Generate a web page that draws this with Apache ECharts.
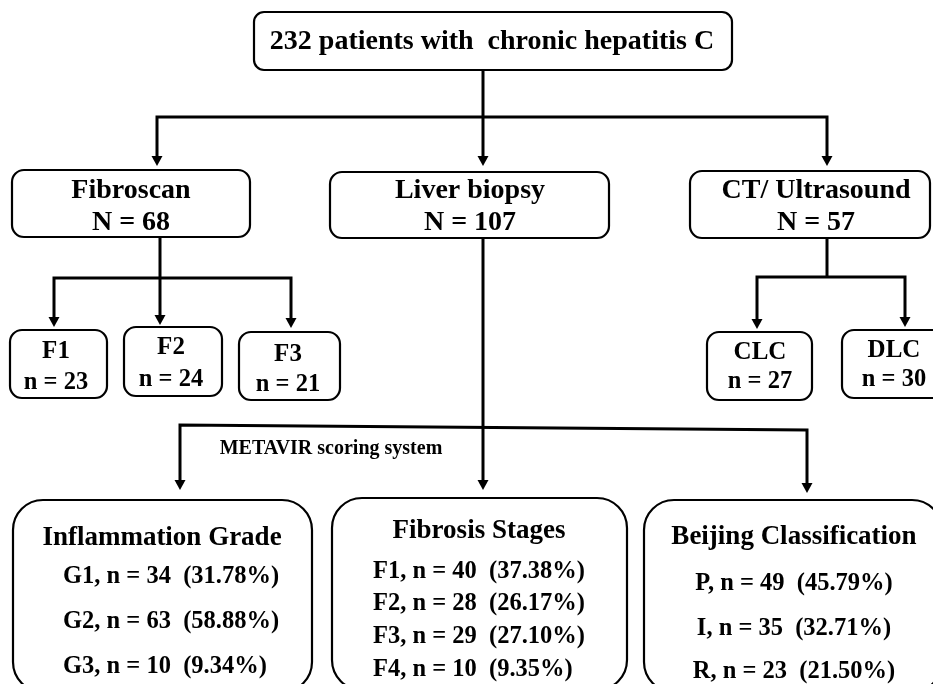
<!DOCTYPE html>
<html>
<head>
<meta charset="utf-8">
<script src="https://cdn.jsdelivr.net/npm/echarts@6/dist/echarts.min.js"></script>
<style>
  html, body { margin: 0; padding: 0; background: #fff; }
  #main { width: 933px; height: 684px; }
</style>
</head>
<body>
<div id="main"></div>
<script>
// --- chart content ---
const rootText = '232 patients with  chronic hepatitis C';
const methodNames = ['Fibroscan', 'Liver biopsy', 'CT/ Ultrasound'];
const methodCounts = [68, 107, 57];
const fibroscanStages = ['F1', 'F2', 'F3'];
const fibroscanCounts = [23, 24, 21];
const imagingGroups = ['CLC', 'DLC'];
const imagingCounts = [27, 30];
const scoringLabel = 'METAVIR scoring system';
const panelTitles = ['Inflammation Grade', 'Fibrosis Stages', 'Beijing Classification'];
const gradeNames = ['G1', 'G2', 'G3'];
const gradeCounts = [34, 63, 10];
const gradePercents = ['31.78%', '58.88%', '9.34%'];
const stageNames = ['F1', 'F2', 'F3', 'F4'];
const stageCounts = [40, 28, 29, 10];
const stagePercents = ['37.38%', '26.17%', '27.10%', '9.35%'];
const beijingNames = ['P', 'I', 'R'];
const beijingCounts = [49, 35, 23];
const beijingPercents = ['45.79%', '32.71%', '21.50%'];

// --- layout (pixels) ---
const FONT = '"Liberation Serif", "Times New Roman", serif';
const rootBox = { x: 254, y: 12, w: 478, h: 58, r: 10 };
const methodBoxes = [
  { x: 12, y: 170, w: 238, h: 67 },
  { x: 330, y: 172, w: 279, h: 66 },
  { x: 690, y: 171, w: 240, h: 67 }
];
const methodTextX = [131, 470, 816];
const fibroBoxes = [
  { x: 10, y: 330, w: 97, h: 68 },
  { x: 124, y: 327, w: 98, h: 69 },
  { x: 239, y: 332, w: 101, h: 68 }
];
const fibroTextX = [56, 171, 288];
const fibroTextY = [[352, 383], [348, 380], [355, 385]];
const imgBoxes = [
  { x: 707, y: 332, w: 105, h: 68 },
  { x: 842, y: 330, w: 106, h: 68 }
];
const imgTextX = [760, 894];
const imgTextY = [[353, 382], [351, 380]];
const panelBoxes = [
  { x: 13, y: 500, w: 299, h: 192 },
  { x: 332, y: 498, w: 295, h: 192 },
  { x: 644, y: 500, w: 298, h: 192 }
];

const els = [];

function box(b, r) {
  els.push({
    type: 'rect',
    shape: { x: b.x, y: b.y, width: b.w, height: b.h, r: r },
    style: { fill: '#fff', stroke: '#000', lineWidth: 2.2 }
  });
}

function label(x, y, text, size, align) {
  els.push({
    type: 'text',
    z: 10,
    style: {
      text: text, x: x, y: y,
      font: 'bold ' + size + 'px ' + FONT,
      fill: '#000',
      align: align || 'center', textAlign: align || 'center',
      verticalAlign: 'middle', textVerticalAlign: 'middle'
    }
  });
}

function wire(points) {
  els.push({
    type: 'polyline',
    shape: { points: points },
    style: { stroke: '#000', lineWidth: 3, fill: null }
  });
}

function arrowHead(x, y) {
  // tip at (x, y), pointing down
  els.push({
    type: 'polygon',
    shape: { points: [[x - 5.5, y - 10], [x + 5.5, y - 10], [x, y]] },
    style: { fill: '#000' }
  });
}

// connectors
wire([[483, 70], [483, 160]]); arrowHead(483, 166);
wire([[157, 160], [157, 117], [827, 117], [827, 160]]);
arrowHead(157, 166); arrowHead(827, 166);

wire([[160, 237], [160, 278]]);
wire([[54, 320], [54, 278], [291, 278], [291, 320]]);
wire([[160, 278], [160, 318]]);
arrowHead(54, 327); arrowHead(160, 325); arrowHead(291, 328);

wire([[827, 238], [827, 277]]);
wire([[757, 322], [757, 277], [905, 277], [905, 322]]);
arrowHead(757, 329); arrowHead(905, 327);

wire([[483, 238], [483, 483]]); arrowHead(483, 490);
wire([[180, 483], [180, 425], [807, 430], [807, 486]]);
arrowHead(180, 490); arrowHead(807, 493);

// boxes
box(rootBox, rootBox.r);
methodBoxes.forEach(b => box(b, 12));
fibroBoxes.forEach(b => box(b, 12));
imgBoxes.forEach(b => box(b, 12));
panelBoxes.forEach(b => box(b, 30));

// texts
label(492, 42, rootText, 28);
methodNames.forEach((name, i) => {
  label(methodTextX[i], 191, name, 28);
  label(methodTextX[i], 223, 'N = ' + methodCounts[i], 28);
});
fibroscanStages.forEach((name, i) => {
  label(fibroTextX[i], fibroTextY[i][0], name, 25);
  label(fibroTextX[i], fibroTextY[i][1], 'n = ' + fibroscanCounts[i], 24.5);
});
imagingGroups.forEach((name, i) => {
  label(imgTextX[i], imgTextY[i][0], name, 25);
  label(imgTextX[i], imgTextY[i][1], 'n = ' + imagingCounts[i], 24.5);
});
label(331, 449, scoringLabel, 20);

label(162, 538, panelTitles[0], 27);
const gradeY = [577, 622, 667];
gradeNames.forEach((g, i) => {
  label(63, gradeY[i], g + ', n = ' + gradeCounts[i] + '  (' + gradePercents[i] + ')', 24.5, 'left');
});
label(479, 531, panelTitles[1], 27);
const stageY = [572, 604, 637, 670];
stageNames.forEach((s, i) => {
  label(373, stageY[i], s + ', n = ' + stageCounts[i] + '  (' + stagePercents[i] + ')', 24.5, 'left');
});
label(794, 537, panelTitles[2], 27);
const beijingY = [584, 629, 672];
beijingNames.forEach((s, i) => {
  label(794, beijingY[i], s + ', n = ' + beijingCounts[i] + '  (' + beijingPercents[i] + ')', 24.5);
});

const chart = echarts.init(document.getElementById('main'));
chart.setOption({
  backgroundColor: '#fff',
  animation: false,
  graphic: { elements: els }
});
</script>
</body>
</html>
